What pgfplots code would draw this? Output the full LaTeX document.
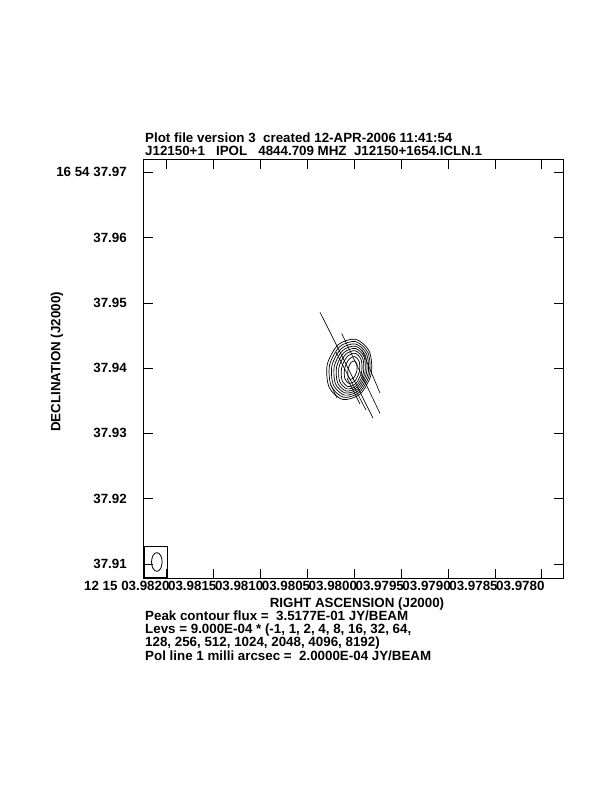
\documentclass[border=0pt]{standalone}
\usepackage{fontspec}
\setmainfont{Liberation Sans}
\usepackage{pgfplots}
\pgfplotsset{compat=1.18}
\newcommand{\lf}{\fontsize{13.4}{13.4}\bfseries\selectfont}
\begin{document}
\begin{tikzpicture}[x=1bp,y=1bp]
\path[use as bounding box] (0,0) rectangle (612,792);
\begin{axis}[
  at={(143.3bp,213.3bp)}, anchor=south west,
  width=420.4bp, height=419.4bp, scale only axis,
  x dir=reverse,
  xmin=-22.35, xmax=22.5, ymin=-32.26, ymax=32.0,
  xtick={20,15,10,5,0,-5,-10,-15,-20},
  xticklabels={{12 15 03.9820},{03.9815},{03.9810},{03.9805},{03.9800},{03.9795},{03.9790},{03.9785},{03.9780}},
  ytick={-30,-20,-10,0,10,20,30},
  yticklabels={{37.91},{37.92},{37.93},{37.94},{37.95},{37.96},{16 54 37.97}},
  tick align=inside, major tick length=10bp,
  tick style={black, line width=0.6bp},
  axis line style={line width=0.8bp},
  ticklabel style={font=\lf},
  xticklabel style={anchor=north east, xshift=5bp, inner sep=2bp},
  yticklabel style={anchor=east, xshift=-13bp},
]
% contours (levels 1..256 x 9.0E-04 Jy/beam)
\addplot[black, line width=0.7bp, smooth cycle] coordinates {(-1.814,-0.900) (-1.610,2.570) (-0.150,4.427) (1.710,3.583) (2.880,0.532) (2.676,-2.938) (1.216,-4.795) (-0.644,-3.951)};
\addplot[black, line width=0.7bp, smooth cycle] coordinates {(-1.647,-0.852) (-1.468,2.356) (-0.141,4.067) (1.556,3.279) (2.629,0.454) (2.450,-2.754) (1.123,-4.465) (-0.574,-3.677)};
\addplot[black, line width=0.7bp, smooth cycle] coordinates {(-1.482,-0.803) (-1.328,2.143) (-0.133,3.708) (1.402,2.976) (2.378,0.375) (2.224,-2.571) (1.029,-4.136) (-0.506,-3.404)};
\addplot[black, line width=0.7bp, smooth cycle] coordinates {(-1.316,-0.755) (-1.189,1.939) (-0.128,3.363) (1.245,2.682) (2.126,0.295) (1.999,-2.399) (0.938,-3.823) (-0.435,-3.142)};
\addplot[black, line width=0.7bp, smooth cycle] coordinates {(-1.149,-0.707) (-1.048,1.736) (-0.121,3.018) (1.090,2.389) (1.875,0.217) (1.774,-2.226) (0.847,-3.508) (-0.364,-2.879)};
\addplot[black, line width=0.7bp, smooth cycle] coordinates {(-0.984,-0.658) (-0.908,1.523) (-0.113,2.659) (0.936,2.085) (1.624,0.138) (1.548,-2.043) (0.753,-3.179) (-0.296,-2.605)};
\addplot[black, line width=0.7bp, smooth cycle] coordinates {(-0.787,-0.601) (-0.742,1.294) (-0.100,2.269) (0.763,1.753) (1.341,0.049) (1.296,-1.846) (0.654,-2.821) (-0.209,-2.305)};
\addplot[black, line width=0.7bp, smooth cycle] coordinates {(-0.547,-0.530) (-0.534,1.001) (-0.071,1.775) (0.572,1.339) (1.017,-0.052) (1.004,-1.583) (0.541,-2.357) (-0.102,-1.921)};
\addplot[black, line width=0.7bp, smooth cycle] coordinates {(-0.277,-0.449) (-0.289,0.598) (-0.019,1.116) (0.374,0.801) (0.661,-0.163) (0.673,-1.210) (0.403,-1.728) (0.010,-1.413)};
% polarization vectors
\addplot[black, line width=0.6bp] coordinates {(3.648,8.572) (-2.005,-7.654)};
\addplot[black, line width=0.6bp] coordinates {(1.333,5.311) (-2.752,-6.934)};
\addplot[black, line width=0.6bp] coordinates {(-0.832,2.755) (-2.752,-3.826)};
\addplot[black, line width=0.6bp] coordinates {(1.941,2.449) (-1.259,-6.429)};
\addplot[black, line width=0.6bp] coordinates {(2.475,-2.602) (1.835,-4.592)};
\addplot[black, line width=0.6bp] coordinates {(0.768,-1.531) (-0.619,-5.510)};
% beam
\draw[line width=0.7bp] (axis cs:22.37,-27.25) rectangle (axis cs:19.915,-32.0);
\draw[line width=0.8bp] (axis cs:21.056,-29.70) ellipse [x radius=5.3bp, y radius=9.3bp];
\end{axis}
\begin{scope}[every node/.style={font=\lf, inner sep=0pt}]
\node[anchor=base west] at (145,649) {Plot file version 3\ \ created 12-APR-2006 11:41:54};
\node[anchor=base west] at (145,636) {J12150+1\ \ \ IPOL\ \ \ 4844.709 MHZ\ \ J12150+1654.ICLN.1};
\node[anchor=center] at (357,188) {RIGHT ASCENSION (J2000)};
\node[anchor=center, rotate=90] at (57,430) {DECLINATION (J2000)};
\node[anchor=base west] at (145,171) {Peak contour flux =\ \ 3.5177E-01 JY/BEAM};
\node[anchor=base west] at (145,158) {Levs = 9.000E-04 * (-1, 1, 2, 4, 8, 16, 32, 64,};
\node[anchor=base west] at (145,145) {128, 256, 512, 1024, 2048, 4096, 8192)};
\node[anchor=base west] at (145,131) {Pol line 1 milli arcsec =\ \ 2.0000E-04 JY/BEAM};
\end{scope}
\end{tikzpicture}
\end{document}
